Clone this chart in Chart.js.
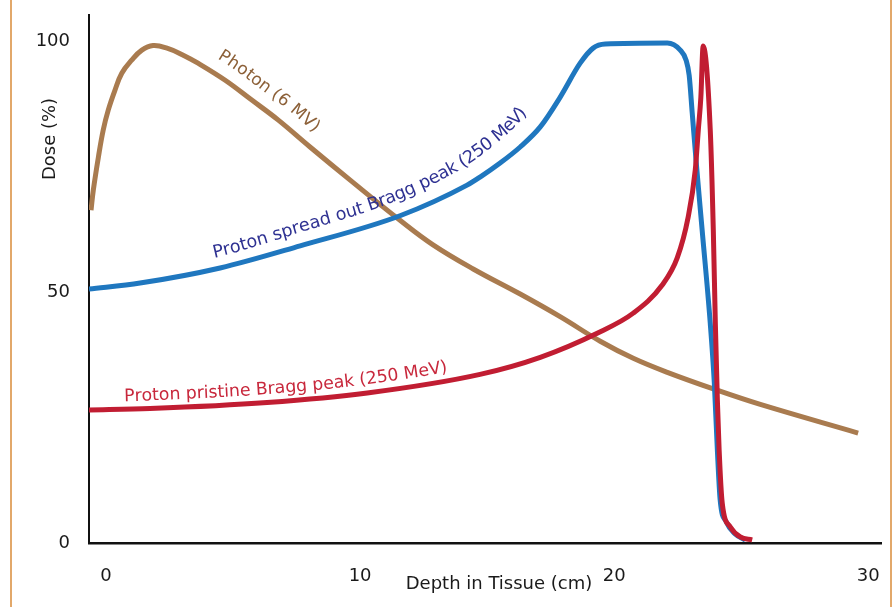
<!DOCTYPE html>
<html>
<head>
<meta charset="utf-8">
<script src="https://cdn.jsdelivr.net/npm/chart.js@4.4.0/dist/chart.umd.min.js"></script>
<style>
  html, body { margin: 0; padding: 0; background: #fff; }
  #wrap { position: relative; width: 894px; height: 607px; overflow: hidden; }
  #wrap canvas { position: absolute; left: 0; top: 0; }
  .edge { position: absolute; top: 0; bottom: 0; width: 2px; background: #e2a86a; }
</style>
</head>
<body>
<div id="wrap">
  <canvas id="doseChart" width="894" height="607"></canvas>
  <div class="edge" style="left:10px"></div>
  <div class="edge" style="left:890px"></div>
</div>
<script>
// curves: depth in cm, dose in %
const seriesNames = ['Photon (6 MV)', 'Proton spread out Bragg peak (250 MeV)', 'Proton pristine Bragg peak (250 MeV)'];

const photonDepth = [-0.59, -0.5, -0.3, -0.11, 0.09, 0.35, 0.62, 1.01, 1.41, 1.85, 2.4, 3.0, 3.62, 4.69, 5.75, 6.77, 8.03, 9.61, 11.57, 12.87, 14.45, 16.3, 17.87, 19.45, 20.75, 22.09, 23.9, 25.75, 29.6];
const photonDose = [66.3, 70.3, 76.9, 82.3, 86.3, 90.2, 93.6, 96.2, 98.2, 99.1, 98.6, 97.3, 95.6, 92.2, 88.2, 84.3, 78.9, 72.3, 64.3, 59.4, 54.6, 49.6, 45.1, 40.2, 36.8, 34.0, 30.7, 27.6, 21.9];

const sobpDepth = [-0.67, 1.34, 4.49, 7.64, 11.57, 14.21, 14.72, 15.51, 16.3, 17.09, 17.87, 18.66, 19.17, 19.65, 22.09, 22.6, 22.83, 22.95, 23.07, 23.23, 23.46, 23.78, 23.94, 24.06, 24.17, 24.41, 24.76, 25.16];
const sobpDose = [50.6, 51.8, 54.8, 59.2, 65.2, 71.3, 72.9, 75.7, 78.9, 82.9, 88.8, 95.6, 98.6, 99.4, 99.6, 98.2, 96.2, 93.2, 85.7, 75.7, 62.4, 43.8, 31.9, 18.5, 8.6, 4.2, 1.8, 0.6];

const braggDepth = [-0.67, 1.73, 6.34, 10.28, 14.72, 17.09, 19.33, 20.75, 21.89, 22.48, 22.91, 23.19, 23.31, 23.41, 23.5, 23.78, 23.9, 23.98, 24.06, 24.13, 24.25, 24.57, 24.96, 25.43];
const braggDose = [26.5, 26.8, 28.0, 29.9, 33.6, 37.0, 41.8, 45.8, 51.4, 56.8, 64.9, 74.3, 82.3, 88.8, 99.0, 82.3, 62.4, 43.8, 28.5, 18.5, 8.0, 3.2, 1.2, 0.6];

const depthTicks = [0, 10, 20, 30];
const doseTicks = [0, 50, 100];

const FONT = 'DejaVu Sans';

const toPoints = (xs, ys) => xs.map((x, i) => ({ x: x, y: ys[i] }));

// turn the drawn spline of a dataset into a dense polyline
function samplePath(points) {
    const out = [];
    for (let i = 0; i < points.length - 1; i++) {
        const a = points[i], b = points[i + 1];
        const c1x = a.cp2x ?? a.x, c1y = a.cp2y ?? a.y;
        const c2x = b.cp1x ?? b.x, c2y = b.cp1y ?? b.y;
        for (let k = 0; k < 24; k++) {
            const u = k / 24, v = 1 - u;
            out.push({
                x: v*v*v*a.x + 3*v*v*u*c1x + 3*v*u*u*c2x + u*u*u*b.x,
                y: v*v*v*a.y + 3*v*v*u*c1y + 3*v*u*u*c2y + u*u*u*b.y
            });
        }
    }
    const last = points[points.length - 1];
    out.push({ x: last.x, y: last.y });
    let len = 0;
    out.forEach((p, i) => {
        if (i > 0) len += Math.hypot(p.x - out[i-1].x, p.y - out[i-1].y);
        p.s = len;
    });
    return out;
}

function pointAt(path, s) {
    let i = 1;
    while (i < path.length - 1 && path[i].s < s) i++;
    const a = path[i-1], b = path[i];
    const f = b.s > a.s ? (s - a.s) / (b.s - a.s) : 0;
    return { x: a.x + (b.x - a.x) * f, y: a.y + (b.y - a.y) * f };
}

// text that follows a curve, one glyph at a time
const curveLabels = {
    id: 'curveLabels',
    afterDatasetsDraw(chart, args, opts) {
        const ctx = chart.ctx;
        const xScale = chart.scales.x;
        opts.items.forEach(item => {
            const meta = chart.getDatasetMeta(item.dataset);
            const path = samplePath(meta.data);
            const startPx = xScale.getPixelForValue(item.from);
            let j = 0;
            while (j < path.length - 1 && path[j].x < startPx) j++;
            let s = path[j].s;
            const text = chart.data.datasets[item.dataset].label;
            ctx.save();
            ctx.font = item.size + 'px "' + FONT + '"';
            ctx.fillStyle = item.color;
            ctx.textBaseline = 'alphabetic';
            const total = ctx.measureText(text).width;
            const s0 = s;
            for (const ch of text) {
                const w = ctx.measureText(ch).width;
                const mid = s + w / 2;
                const p = pointAt(path, mid);
                const p1 = pointAt(path, mid - item.smooth), p2 = pointAt(path, mid + item.smooth);
                const ang = Math.atan2(p2.y - p1.y, p2.x - p1.x);
                const t = (mid - s0) / total;
                const off = item.offset[0] + (item.offset[1] - item.offset[0]) * t;
                ctx.save();
                ctx.translate(p.x + Math.sin(ang) * off, p.y - Math.cos(ang) * off);
                ctx.rotate(ang);
                ctx.fillText(ch, -w / 2, 0);
                ctx.restore();
                s += w;
            }
            ctx.restore();
        });
    }
};

const axisTitles = {
    id: 'axisTitles',
    afterDraw(chart, args, opts) {
        const ctx = chart.ctx;
        ctx.save();
        ctx.font = opts.size + 'px "' + FONT + '"';
        ctx.fillStyle = opts.color;
        ctx.textAlign = 'center';
        ctx.textBaseline = 'middle';
        ctx.fillText(opts.x.text, opts.x.at[0], opts.x.at[1]);
        ctx.translate(opts.y.at[0], opts.y.at[1]);
        ctx.rotate(-Math.PI / 2);
        ctx.fillText(opts.y.text, 0, 0);
        ctx.restore();
    }
};

new Chart('doseChart', {
    type: 'line',
    data: {
        datasets: [{
            label: seriesNames[0],
            data: toPoints(photonDepth, photonDose),
            borderColor: '#a97b4f',
            cubicInterpolationMode: 'default',
            tension: 0.4,
            order: 3
        }, {
            label: seriesNames[1],
            data: toPoints(sobpDepth, sobpDose),
            borderColor: '#1f77bf',
            order: 2
        }, {
            label: seriesNames[2],
            data: toPoints(braggDepth, braggDose),
            borderColor: '#c11d32',
            order: 1
        }]
    },
    options: {
        responsive: false,
        animation: false,
        layout: { padding: { top: 15, right: 13, left: 0, bottom: 0 } },
        elements: {
            point: { radius: 0 },
            line: { borderWidth: 5, cubicInterpolationMode: 'monotone', fill: false }
        },
        plugins: {
            legend: { display: false },
            tooltip: { enabled: false },
            curveLabels: {
                items: [
                    { dataset: 0, from: 4.05, offset: [14, 14], smooth: 6, color: '#8c6038', size: 17 },
                    { dataset: 1, from: 4.28, offset: [11, 19], smooth: 14, color: '#2e3192', size: 17.6 },
                    { dataset: 2, from: 0.67, offset: [8, 9], smooth: 10, color: '#c8283c', size: 17.3 }
                ]
            },
            axisTitles: {
                size: 18,
                color: '#1a1a1a',
                x: { text: 'Depth in Tissue (cm)', at: [499, 584] },
                y: { text: 'Dose (%)', at: [50, 139] }
            }
        },
        scales: {
            x: {
                type: 'linear',
                min: -0.67,
                max: 30.5,
                grid: { display: false, drawTicks: false },
                border: { display: true, color: '#111', width: 2.5 },
                afterBuildTicks: s => { s.ticks = depthTicks.map(v => ({ value: v })); },
                afterFit: s => { s.height = 64; s.paddingLeft = 0; s.paddingRight = 0; },
                ticks: { padding: 23, maxRotation: 0, autoSkip: false, color: '#1a1a1a', font: { family: FONT, size: 18 } }
            },
            y: {
                type: 'linear',
                min: 0,
                max: 105.2,
                grid: { display: false, drawTicks: false },
                border: { display: true, color: '#111', width: 2 },
                afterBuildTicks: s => { s.ticks = doseTicks.map(v => ({ value: v })); },
                afterFit: s => { s.width = 89; s.paddingTop = 0; s.paddingBottom = 0; },
                ticks: { padding: 19, color: '#1a1a1a', font: { family: FONT, size: 18 } }
            }
        }
    },
    plugins: [curveLabels, axisTitles]
});
</script>
</body>
</html>
